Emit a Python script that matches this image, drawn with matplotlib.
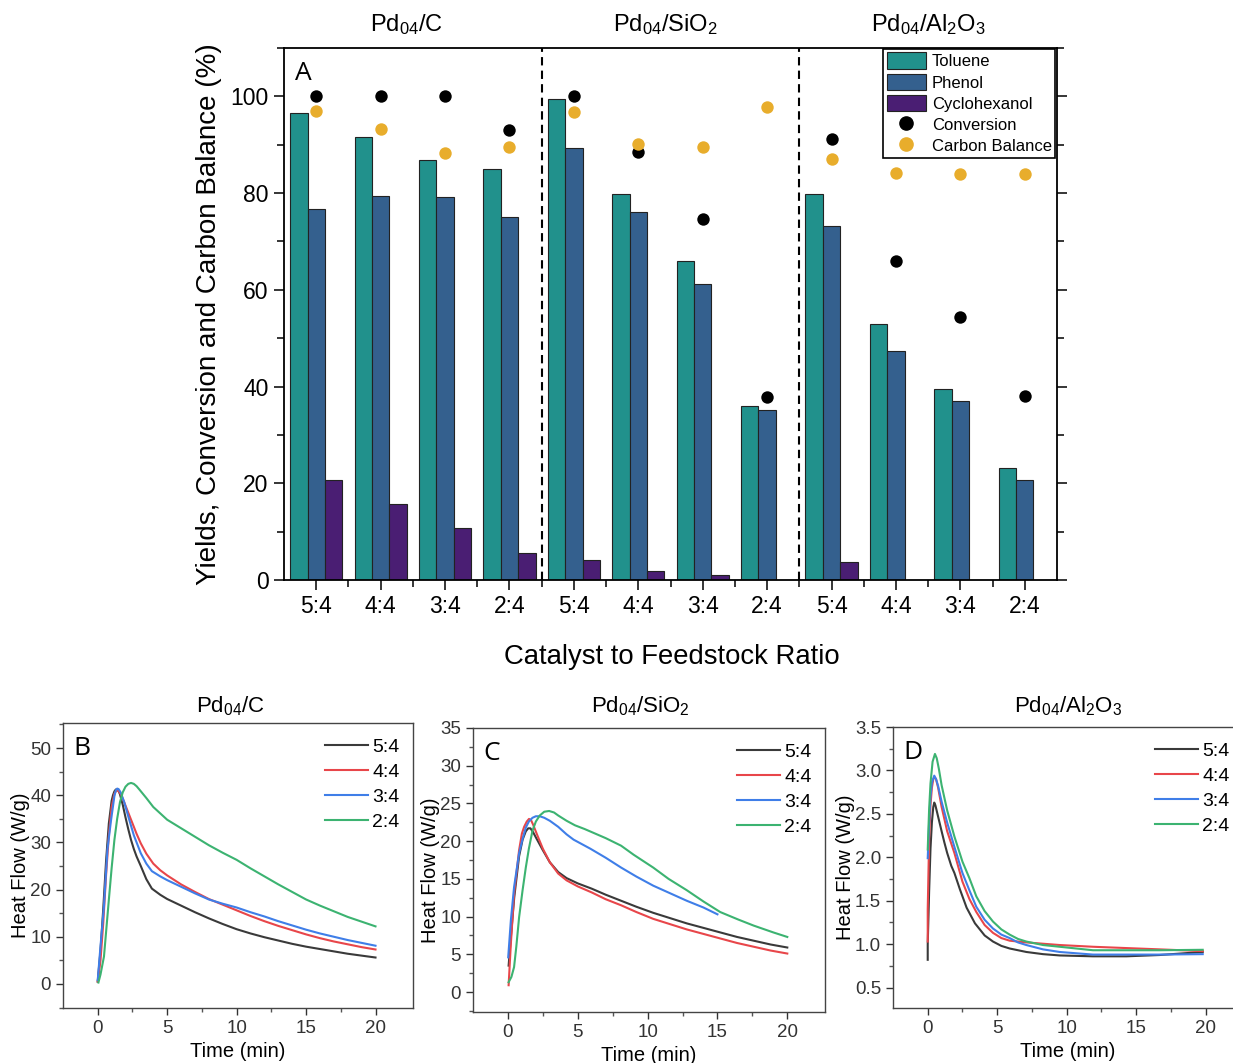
import numpy as np
import matplotlib
matplotlib.use("Agg")
import matplotlib.pyplot as plt
from matplotlib.lines import Line2D
from matplotlib.patches import Patch

plt.rcParams['font.family'] = ['Liberation Sans', 'DejaVu Sans']
plt.rcParams['mathtext.fontset'] = 'custom'
plt.rcParams['mathtext.rm'] = 'Liberation Sans'
plt.rcParams['mathtext.it'] = 'Liberation Sans'
plt.rcParams['mathtext.bf'] = 'Liberation Sans'
plt.rcParams['mathtext.default'] = 'regular'

# ---------------- data: panel A ----------------
catalysts = ['Pd$_{04}$/C', 'Pd$_{04}$/SiO$_2$', 'Pd$_{04}$/Al$_2$O$_3$']
ratios = ['5:4', '4:4', '3:4', '2:4', '5:4', '4:4', '3:4', '2:4', '5:4', '4:4', '3:4', '2:4']
toluene = [96.5, 91.6, 86.8, 84.9, 99.4, 79.9, 66.0, 35.9, 79.9, 52.9, 39.4, 23.1]
phenol = [76.8, 79.3, 79.1, 75.0, 89.3, 76.0, 61.2, 35.2, 73.1, 47.3, 37.1, 20.7]
cyclohexanol = [20.7, 15.8, 10.7, 5.5, 4.1, 1.8, 1.0, 0, 3.7, 0, 0, 0]
conversion = [100, 100, 100, 93.1, 100, 88.5, 74.6, 37.9, 91.1, 66.0, 54.4, 38.1]
carbon_balance = [97.0, 93.3, 88.3, 89.6, 96.8, 90.2, 89.6, 97.9, 87.1, 84.1, 84.0, 84.0]

# ---------------- data: panel B (Pd04/C) ----------------
b_t_54 = [0, 0.2, 0.4, 0.6, 0.8, 1.0, 1.1, 1.2, 1.3, 1.4, 1.5, 1.6, 1.8, 2.0, 2.2, 2.4, 2.6, 2.8, 3.1, 3.5, 3.9, 4.5, 5,
          6, 7, 8, 9, 10, 11, 12, 13, 14, 15, 16, 17, 18, 19, 20]
b_y_54 = [0.5, 7, 16, 26, 34, 38.8, 40.0, 40.8, 41.2, 41.2, 40.9, 40.2, 38.0, 35.3, 32.8, 30.5, 28.6, 27.0, 25.0, 22.2, 20.2, 18.9, 18.0,
          16.6, 15.2, 13.9, 12.7, 11.6, 10.7, 9.9, 9.2, 8.5, 7.9, 7.4, 6.9, 6.4, 6.0, 5.6]
b_t_44 = [0, 0.2, 0.4, 0.6, 0.8, 1.0, 1.2, 1.35, 1.5, 1.7, 2.0, 2.4, 2.8, 3.1, 3.5, 4.0, 4.5, 5,
          6, 7, 8, 9, 10, 11, 12, 13, 14, 15, 16, 17, 18, 19, 20]
b_y_44 = [0.5, 5, 13, 23, 31.5, 37.5, 40.3, 41.0, 40.9, 40.0, 37.8, 34.8, 31.8, 29.8, 27.6, 25.5, 24.1, 23.0,
          21.1, 19.5, 18.0, 16.8, 15.6, 14.4, 13.3, 12.3, 11.4, 10.5, 9.7, 9.0, 8.4, 7.8, 7.3]
b_t_34 = [0, 0.2, 0.45, 0.7, 0.95, 1.2, 1.3, 1.4, 1.5, 1.65, 1.9, 2.2, 2.6, 3.1, 3.5, 3.9, 4.5, 5,
          6, 7, 8, 9, 10, 11, 12, 13, 14, 15, 16, 17, 18, 19, 20]
b_y_34 = [0.8, 8, 16.5, 28.5, 34.5, 39.8, 41.0, 41.4, 41.3, 40.6, 38.6, 35.5, 31.5, 27.7, 25.5, 23.9, 22.8, 22.0,
          20.6, 19.2, 17.9, 17.0, 16.2, 15.2, 14.3, 13.3, 12.4, 11.5, 10.7, 10.0, 9.3, 8.7, 8.1]
b_t_24 = [0.05, 0.2, 0.45, 0.8, 1.0, 1.2, 1.4, 1.6, 1.8, 2.0, 2.2, 2.4, 2.6, 2.8, 3.0, 3.5, 4, 5,
          6, 7, 8, 9, 10, 11, 12, 13, 14, 15, 16, 17, 18, 19, 20]
b_y_24 = [0.3, 2, 5.8, 17.8, 24.5, 30.5, 35.0, 38.5, 40.6, 41.8, 42.4, 42.6, 42.4, 41.9, 41.2, 39.4, 37.5, 34.8,
          33.0, 31.2, 29.4, 27.8, 26.3, 24.5, 22.8, 21.1, 19.5, 17.9, 16.6, 15.4, 14.2, 13.2, 12.2]

# ---------------- data: panel C (Pd04/SiO2) ----------------
c_t_54 = [0.05, 0.2, 0.45, 0.8, 1.05, 1.28, 1.45, 1.61, 1.8, 2.0, 2.5, 3.0, 3.6, 4.2, 5.0, 6, 7, 8.1, 9.2,
          10.4, 11.6, 12.8, 14, 15.2, 16.4, 17.6, 18.8, 20]
c_y_54 = [3.5, 7, 12.5, 18, 20.2, 21.3, 21.7, 21.7, 21.2, 20.5, 18.8, 17.2, 15.9, 15.1, 14.4, 13.7, 12.9, 12.1, 11.3,
          10.5, 9.8, 9.1, 8.5, 7.9, 7.3, 6.8, 6.3, 5.9]
c_t_44 = [0.05, 0.21, 0.44, 0.8, 1.0, 1.16, 1.35, 1.51, 1.65, 1.8, 2.1, 2.5, 3.0, 3.6, 4.2, 5, 6, 7, 8.1, 9.2,
          10.4, 11.6, 12.8, 14, 15.2, 16.4, 17.6, 18.8, 20]
c_y_44 = [0.9, 6.4, 13, 18.8, 21.0, 21.9, 22.6, 22.95, 22.8, 22.2, 20.8, 19.0, 17.2, 15.7, 14.8, 14.0, 13.2, 12.3, 11.5, 10.6,
          9.7, 9.0, 8.3, 7.7, 7.1, 6.5, 6.0, 5.5, 5.1]
c_t_34 = [0.02, 0.21, 0.44, 0.8, 1.05, 1.28, 1.5, 1.76, 2.0, 2.28, 2.6, 3.0, 3.6, 4.2, 4.7, 5.3, 5.9, 7, 8.1, 9.2,
          10.4, 11.6, 12.8, 14, 15.0]
c_y_34 = [4.6, 9.5, 13.9, 18.4, 20.3, 21.8, 22.6, 23.1, 23.3, 23.3, 23.1, 22.7, 21.9, 20.9, 20.2, 19.6, 19.0, 17.8, 16.5, 15.3,
          14.1, 13.1, 12.1, 11.2, 10.3]
c_t_24 = [0.05, 0.25, 0.44, 0.6, 0.8, 1.05, 1.28, 1.5, 1.76, 2.0, 2.28, 2.6, 2.95, 3.3, 3.6, 4.2, 4.8, 5.5, 6, 7, 8.1, 9,
          10.4, 11.5, 12.8, 14, 15.2, 16.5, 17.6, 19, 20]
c_y_24 = [1.3, 2.0, 3.3, 6.0, 9.9, 13.5, 16.5, 19.0, 21.4, 22.6, 23.4, 23.9, 24.0, 23.8, 23.4, 22.7, 22.1, 21.6, 21.2, 20.4, 19.4, 18.2,
          16.5, 15.0, 13.5, 12.0, 10.6, 9.6, 8.8, 7.9, 7.3]

# ---------------- data: panel D (Pd04/Al2O3) ----------------
d_t_54 = [0.0, 0.0, 0.1, 0.2, 0.3, 0.4, 0.47, 0.55, 0.7, 0.85, 1.0, 1.2, 1.4, 1.7, 1.92, 2.32, 2.8, 3.4, 4.1, 4.7, 5.3, 5.9,
          7.1, 8.3, 9.5, 11.9, 14.3, 16.7, 19.8]
d_y_54 = [0.82, 1.0, 1.6, 2.1, 2.4, 2.58, 2.63, 2.6, 2.5, 2.4, 2.3, 2.17, 2.05, 1.9, 1.82, 1.63, 1.42, 1.24, 1.1, 1.03, 0.98, 0.95,
          0.91, 0.885, 0.87, 0.86, 0.86, 0.875, 0.91]
d_t_44 = [0.0, 0.0, 0.1, 0.2, 0.3, 0.4, 0.5, 0.6, 0.75, 1.0, 1.4, 1.92, 2.5, 3.0, 3.5, 4.1, 4.7, 5.3, 5.9,
          7.1, 9.5, 11.9, 14.3, 16.7, 19.8]
d_y_44 = [1.03, 1.4, 2.2, 2.6, 2.8, 2.9, 2.92, 2.9, 2.8, 2.58, 2.3, 2.05, 1.72, 1.52, 1.37, 1.22, 1.13, 1.07, 1.04,
          1.02, 0.99, 0.97, 0.955, 0.94, 0.92]
d_t_34 = [0.0, 0.1, 0.2, 0.3, 0.47, 0.6, 0.75, 1.0, 1.4, 1.92, 2.5, 3.0, 3.5, 4.1, 4.7, 5.3, 5.9, 6.5,
          7.1, 8.3, 9.5, 11.9, 14.3, 16.7, 19.8]
d_y_34 = [1.99, 2.4, 2.7, 2.86, 2.94, 2.9, 2.82, 2.64, 2.4, 2.12, 1.82, 1.62, 1.43, 1.28, 1.18, 1.11, 1.07, 1.02,
          0.99, 0.94, 0.91, 0.88, 0.88, 0.88, 0.885]
d_t_24 = [0.0, 0.1, 0.2, 0.35, 0.52, 0.65, 0.8, 1.0, 1.4, 1.92, 2.5, 3.0, 3.5, 4.1, 4.7, 5.3, 5.9, 6.5,
          7.1, 8.3, 9.5, 11.9, 14.3, 16.7, 19.8]
d_y_24 = [2.09, 2.55, 2.85, 3.1, 3.19, 3.14, 3.02, 2.83, 2.54, 2.24, 1.95, 1.76, 1.55, 1.38, 1.26, 1.17, 1.11, 1.06,
          1.03, 0.99, 0.97, 0.93, 0.93, 0.93, 0.935]

series_labels = ['5:4', '4:4', '3:4', '2:4']
series_colors = ['#3a3a3a', '#e8464a', '#3f7ee8', '#3cb371']

# ---------------- figure ----------------
W, H = 1233, 1063
fig = plt.figure(figsize=(W / 100, H / 100), dpi=100)

def fr(l, t, r, b):
    return [l / W, 1 - b / H, (r - l) / W, (b - t) / H]

# ---------------- panel A ----------------
ax = fig.add_axes(fr(284, 48, 1057, 580))
x = np.arange(len(ratios))
bw = 0.27
c_tol, c_phe, c_cyc = '#21918c', '#34608e', '#4a1e73'
ax.bar(x - bw, toluene, bw, color=c_tol, edgecolor='#222222', linewidth=0.8, label='Toluene', zorder=2)
ax.bar(x, phenol, bw, color=c_phe, edgecolor='#222222', linewidth=0.8, label='Phenol', zorder=2)
cyc = np.array(cyclohexanol, dtype=float)
mask = cyc > 0
ax.bar(x[mask] + bw, cyc[mask], bw, color=c_cyc, edgecolor='#222222', linewidth=0.8, label='Cyclohexanol', zorder=2)
ax.scatter(x, conversion, s=80, color='black', zorder=3, label='Conversion', linewidths=0)
ax.scatter(x, carbon_balance, s=80, color='#e8ad2c', zorder=4, label='Carbon Balance', linewidths=0)
for xv in (3.5, 7.5):
    ax.axvline(xv, color='black', lw=1.5, ls=(0, (4, 2.5)), zorder=1)
ax.set_xlim(-0.5, 11.5)
ax.set_ylim(0, 110)
ax.set_yticks([0, 20, 40, 60, 80, 100])
ax.set_yticks(np.arange(0, 111, 10), minor=True)
ax.set_xticks(x)
ax.set_xticklabels(ratios)
ax.set_xticks(np.arange(0.5, 11, 1), minor=True)
ax.tick_params(axis='both', which='major', labelsize=16.5, length=7, width=1.1, direction='out', pad=4)
ax.tick_params(axis='both', which='minor', length=5, width=1.1, direction='out')
ax.tick_params(axis='y', which='both', right=True)
for s in ax.spines.values():
    s.set_linewidth(1.3)
ax.set_ylabel('Yields, Conversion and Carbon Balance (%)', fontsize=20, labelpad=6)
fig.text(672 / W, 1 - 657 / H, 'Catalyst to Feedstock Ratio', fontsize=19.8, ha='center', va='center')
ax.text(0.014, 0.975, 'A', transform=ax.transAxes, fontsize=19, ha='left', va='top',
        family=['Open Sans', 'DejaVu Sans'])
for cx, name in zip([406, 665, 928], catalysts):
    fig.text(cx / W, 1 - 25 / H, name, fontsize=17, ha='center', va='center')

handles = [Patch(facecolor=c_tol, edgecolor='#222222', linewidth=0.8, label='Toluene'),
           Patch(facecolor=c_phe, edgecolor='#222222', linewidth=0.8, label='Phenol'),
           Patch(facecolor=c_cyc, edgecolor='#222222', linewidth=0.8, label='Cyclohexanol'),
           Line2D([], [], ls='none', marker='o', markersize=9.5, color='black', label='Conversion'),
           Line2D([], [], ls='none', marker='o', markersize=9.5, color='#e8ad2c', label='Carbon Balance')]
leg = ax.legend(handles=handles, loc='upper right', bbox_to_anchor=(1055 / W, 1 - 49 / H),
                bbox_transform=fig.transFigure, fontsize=12, frameon=True, fancybox=False,
                edgecolor='black', framealpha=1, borderpad=0.2, labelspacing=0.26,
                handlelength=2.35, handleheight=1.15, handletextpad=0.35, borderaxespad=0)
leg.get_frame().set_linewidth(1.2)

# ---------------- bottom panels ----------------
def heat_panel(rect, data, ylim, yticks, yminor, letter, title, title_x):
    a = fig.add_axes(rect)
    for (t, y), lab, col in zip(data, series_labels, series_colors):
        a.plot(t, y, color=col, lw=1.5, label=lab, solid_joinstyle='round')
    a.set_xlim(-2.5, 22.7)
    a.set_ylim(*ylim)
    a.set_xticks([0, 5, 10, 15, 20])
    a.set_xticks([2.5, 7.5, 12.5, 17.5], minor=True)
    a.set_yticks(yticks)
    a.set_yticks(yminor, minor=True)
    a.tick_params(which='major', labelsize=13.5, length=5, width=1, direction='out', colors='#333333')
    a.tick_params(which='minor', length=3, width=1, direction='out', colors='#555555')
    for s in a.spines.values():
        s.set_linewidth(1.0)
        s.set_color('#444444')
    a.set_xlabel('Time (min)', fontsize=14.5, labelpad=4)
    a.set_ylabel('Heat Flow (W/g)', fontsize=14.5, labelpad=0)
    a.text(0.03, 0.955, letter, transform=a.transAxes, fontsize=19, ha='left', va='top',
           family=['Open Sans', 'DejaVu Sans'])
    a.legend(loc='upper right', bbox_to_anchor=(1.0, 0.995), frameon=False, fontsize=14,
             handlelength=2.2, handletextpad=0.2, labelspacing=0.38, borderaxespad=0.3)
    fig.text(title_x / W, 1 - 706 / H, title, fontsize=16, ha='center', va='center')
    return a

heat_panel(fr(63, 723, 413, 1008),
           [(b_t_54, b_y_54), (b_t_44, b_y_44), (b_t_34, b_y_34), (b_t_24, b_y_24)],
           (-5.1, 55.3), [0, 10, 20, 30, 40, 50], np.arange(-5, 56, 5), 'B', catalysts[0], 230)
heat_panel(fr(473, 728, 825, 1012),
           [(c_t_54, c_y_54), (c_t_44, c_y_44), (c_t_34, c_y_34), (c_t_24, c_y_24)],
           (-2.65, 35), [0, 5, 10, 15, 20, 25, 30, 35], np.arange(-2.5, 35.1, 2.5), 'C', catalysts[1], 640)
heat_panel(fr(893, 727, 1243, 1008),
           [(d_t_54, d_y_54), (d_t_44, d_y_44), (d_t_34, d_y_34), (d_t_24, d_y_24)],
           (0.265, 3.5), [0.5, 1.0, 1.5, 2.0, 2.5, 3.0, 3.5], np.arange(0.5, 3.51, 0.25), 'D', catalysts[2], 1068)

fig.savefig('out.png', dpi=100)
